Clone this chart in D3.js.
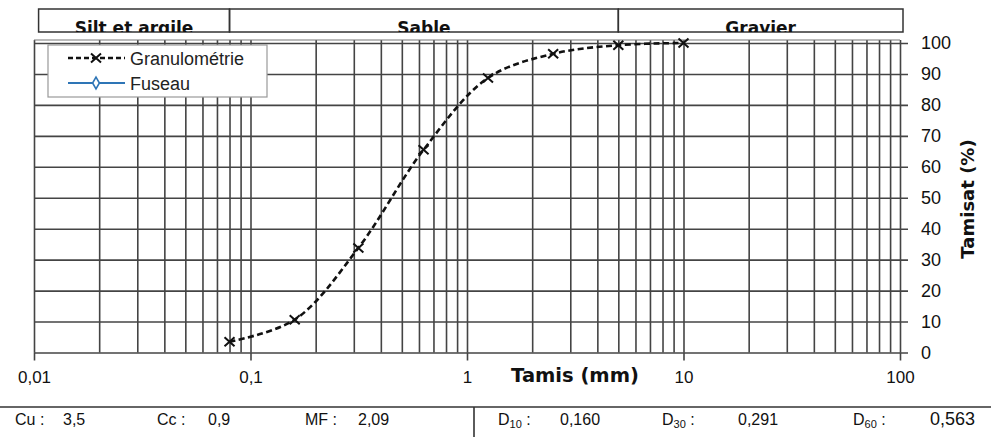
<!DOCTYPE html>
<html>
<head>
<meta charset="utf-8">
<script src="https://cdn.jsdelivr.net/npm/d3@7"></script>
<style>
  body { margin: 0; background: #fff; }
  svg { display: block; }
  .axis path { display: none; }
  .axis text { font-family: "Liberation Sans", Arial, sans-serif; fill: #111; }
</style>
</head>
<body>
<div id="chart"></div>
<script>
// tamis (mm) et passants (%)
var tamis = [0.08, 0.16, 0.315, 0.63, 1.25, 2.5, 5, 10]
var passants = [3.5, 10.6, 33.8, 65.5, 88.7, 96.5, 99.3, 100]
var majorTicks = [0.01, 0.1, 1, 10, 100]
var yTicks = [0, 10, 20, 30, 40, 50, 60, 70, 80, 90, 100]
var classes = ['Silt et argile', 'Sable', 'Gravier']
var classBounds = [0.0105, 0.08, 5, 100]
var legendNames = ['Granulométrie', 'Fuseau']
var statLabels = ['Cu', 'Cc', 'MF']
var statValues = ['3,5', '0,9', '2,09']
var dLabels = ['10', '30', '60']
var dValues = ['0,160', '0,291', '0,563']

var width = 991, height = 437
var margin = {left: 34, right: 91, top: 43, bottom: 84.5}
var y0 = height - margin.bottom
var gridColor = '#444', gridWidth = 1.6

var svg = d3.select('#chart').append('svg').attr('width', width).attr('height', height)

var x = d3.scaleLog().domain([0.01, 100]).range([margin.left, width - margin.right])
var y = d3.scaleLinear().domain([0, 100]).range([y0, margin.top])

// toutes les lignes de grille verticales (2..9 de chaque décade)
var allTicks = []
for (var e = -2; e < 2; e++) {
  for (var k = 1; k < 10; k++) allTicks.push(k * Math.pow(10, e))
}
allTicks.push(100)

var fmt = d => String(d).replace('.', ',')

// grille verticale
svg.append('g')
  .classed('axis', true)
  .attr('transform', 'translate(0,' + y0 + ')')
  .call(d3.axisBottom(x).tickValues(allTicks).tickSize(-(y0 - 40)).tickFormat(''))
  .selectAll('line').attr('stroke', gridColor).attr('stroke-width', gridWidth)

// graduations principales en bas
var xAxis = svg.append('g')
  .classed('axis', true)
  .attr('transform', 'translate(0,' + y0 + ')')
  .call(d3.axisBottom(x).tickValues(majorTicks).tickSize(8).tickPadding(10).tickFormat(fmt))
xAxis.selectAll('line').attr('stroke', gridColor).attr('stroke-width', gridWidth)
xAxis.selectAll('text').attr('font-size', 17)

// grille horizontale + axe de droite
var yAxis = svg.append('g')
  .classed('axis', true)
  .attr('transform', 'translate(' + (width - margin.right) + ',0)')
  .call(d3.axisRight(y).tickValues(yTicks).tickSizeInner(8).tickPadding(13))
yAxis.selectAll('line').attr('stroke', gridColor).attr('stroke-width', gridWidth)
  .attr('x1', -(width - margin.right - margin.left))
yAxis.selectAll('text').attr('font-size', 18)

// bord supérieur
svg.append('line')
  .attr('x1', margin.left).attr('x2', width - margin.right)
  .attr('y1', 40).attr('y2', 40)
  .attr('stroke', '#777').attr('stroke-width', 1.2)

// titres d'axes
svg.append('text')
  .text('Tamis (mm)')
  .attr('x', 575).attr('y', 382)
  .attr('text-anchor', 'middle')
  .attr('font-family', '"DejaVu Sans", Verdana, sans-serif')
  .attr('font-weight', 'bold')
  .attr('font-size', 19.5)
  .attr('fill', '#111')

svg.append('text')
  .text('Tamisat (%)')
  .attr('transform', 'translate(974,199) rotate(-90)')
  .attr('text-anchor', 'middle')
  .attr('font-family', '"DejaVu Sans", Verdana, sans-serif')
  .attr('font-weight', 'bold')
  .attr('font-size', 18)
  .attr('fill', '#111')

// bandeau des classes
var header = svg.append('g')
var clip = svg.append('clipPath').attr('id', 'hclip')
clip.append('rect').attr('x', 0).attr('y', 9).attr('width', width).attr('height', 23)
classes.forEach((c, i) => {
  var xa = x(classBounds[i]), xb = x(classBounds[i + 1]) + (i === 2 ? 3 : 0)
  header.append('rect')
    .attr('x', xa).attr('y', 9)
    .attr('width', xb - xa).attr('height', 23)
    .attr('fill', 'none').attr('stroke', '#333').attr('stroke-width', 1.5)
  header.append('text')
    .text(c)
    .attr('clip-path', 'url(#hclip)')
    .attr('x', (xa + xb) / 2).attr('y', 33.5)
    .attr('text-anchor', 'middle')
    .attr('font-family', '"DejaVu Sans", Verdana, sans-serif')
    .attr('font-weight', 'bold')
    .attr('font-size', 17)
    .attr('fill', '#111')
})

// courbe granulométrique
var data = tamis.map((t, i) => ({d: t, p: passants[i]}))
var line = d3.line().x(d => x(d.d)).y(d => y(d.p)).curve(d3.curveCatmullRom.alpha(0.5))
svg.append('path')
  .datum(data)
  .attr('d', line)
  .attr('fill', 'none')
  .attr('stroke', '#111')
  .attr('stroke-width', 2.6)
  .attr('stroke-dasharray', '6,3.5')

function cross (g, cx, cy) {
  g.append('path')
    .attr('d', 'M' + (cx - 5) + ',' + (cy - 4.5) + 'L' + (cx + 5) + ',' + (cy + 4.5) +
               'M' + (cx - 5) + ',' + (cy + 4.5) + 'L' + (cx + 5) + ',' + (cy - 4.5))
    .attr('stroke', '#111').attr('stroke-width', 2)
}
data.forEach(d => cross(svg, x(d.d), y(d.p)))

// légende
var legend = svg.append('g')
legend.append('rect')
  .attr('x', 48).attr('y', 45).attr('width', 219).attr('height', 52)
  .attr('fill', '#fff').attr('stroke', '#999').attr('stroke-width', 1.2)
legend.append('line')
  .attr('x1', 68).attr('x2', 125).attr('y1', 58).attr('y2', 58)
  .attr('stroke', '#111').attr('stroke-width', 2.4).attr('stroke-dasharray', '5,3')
cross(legend, 96, 58)
legend.append('line')
  .attr('x1', 68).attr('x2', 125).attr('y1', 83).attr('y2', 83)
  .attr('stroke', '#2e75b6').attr('stroke-width', 2)
legend.append('path')
  .attr('d', d3.symbol(d3.symbolDiamond, 40)())
  .attr('transform', 'translate(96,83) scale(1,1)')
  .attr('fill', '#fff').attr('stroke', '#2e75b6').attr('stroke-width', 1.6)
legendNames.forEach((n, i) => {
  legend.append('text')
    .text(n)
    .attr('x', 130).attr('y', 64.5 + i * 25.5)
    .attr('font-family', '"Liberation Sans", Arial, sans-serif')
    .attr('font-size', 18)
    .attr('fill', '#222')
})

// tableau du bas
svg.append('line')
  .attr('x1', 0).attr('x2', width).attr('y1', 407).attr('y2', 407)
  .attr('stroke', '#333').attr('stroke-width', 1.6)
svg.append('line')
  .attr('x1', 474).attr('x2', 474).attr('y1', 407).attr('y2', height)
  .attr('stroke', '#333').attr('stroke-width', 1.6)

var tfont = '"Liberation Sans", Arial, sans-serif'
var statX = [15, 157, 305], statVX = [63, 208, 358]
statLabels.forEach((s, i) => {
  svg.append('text').text(s + ' :')
    .attr('x', statX[i]).attr('y', 425)
    .attr('font-family', tfont).attr('font-size', 16).attr('fill', '#111')
  svg.append('text').text(statValues[i])
    .attr('x', statVX[i]).attr('y', 425)
    .attr('font-family', tfont).attr('font-size', 16).attr('fill', '#111')
})
var dX = [498, 662, 853], dVX = [560, 738, 930], dSize = [16, 16, 18]
dLabels.forEach((s, i) => {
  var t = svg.append('text')
    .attr('x', dX[i]).attr('y', 425)
    .attr('font-family', tfont).attr('font-size', 16).attr('fill', '#111')
  t.append('tspan').text('D')
  t.append('tspan').text(s).attr('font-size', 11).attr('dy', 3)
  t.append('tspan').text(' :').attr('dy', -3)
  svg.append('text').text(dValues[i])
    .attr('x', dVX[i]).attr('y', 425)
    .attr('font-family', tfont).attr('font-size', dSize[i]).attr('fill', '#111')
})
</script>
</body>
</html>
